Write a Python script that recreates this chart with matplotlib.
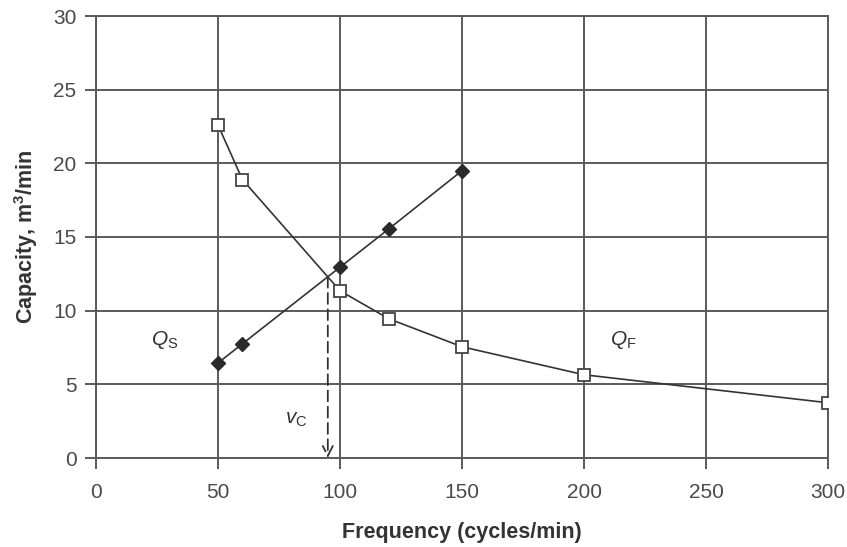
import matplotlib
matplotlib.use("Agg")
import matplotlib.pyplot as plt

plt.rcParams['font.family'] = ['Liberation Sans', 'DejaVu Sans']
plt.rcParams['mathtext.fontset'] = 'custom'
plt.rcParams['mathtext.rm'] = 'Liberation Sans'
plt.rcParams['mathtext.it'] = 'Liberation Sans:italic'
plt.rcParams['mathtext.bf'] = 'Liberation Sans:bold'

# Feed capacity Q_F (open squares) and screen capacity Q_S (filled diamonds)
freq_f = [50, 60, 100, 120, 150, 200, 300]
cap_f = [22.6, 18.9, 11.35, 9.45, 7.55, 5.65, 3.75]
freq_s = [50, 60, 100, 120, 150]
cap_s = [6.45, 7.75, 12.95, 15.55, 19.5]
# Critical frequency where the two curves cross
v_c = 95.0
q_c = 12.3

x_ticks = [0, 50, 100, 150, 200, 250, 300]
y_ticks = [0, 5, 10, 15, 20, 25, 30]

fig = plt.figure(figsize=(8.47, 5.47), dpi=100)
ax = fig.add_axes([96 / 847, 1 - 458 / 547, (828 - 96) / 847, (458 - 16) / 547])

grid_c = '#5a5a5a'
line_c = '#333333'
text_c = '#333333'

ax.set_xlim(0, 300)
ax.set_ylim(0, 30)
ax.set_xticks(x_ticks)
ax.set_yticks(y_ticks)
ax.grid(True, color=grid_c, linewidth=1.4)
ax.set_axisbelow(True)
for s in ax.spines.values():
    s.set_color(grid_c)
    s.set_linewidth(1.4)
ax.tick_params(axis='both', direction='out', length=8, width=1.4, color=grid_c,
               labelsize=15, labelcolor='#4a4a4a')
ax.tick_params(axis='x', pad=10)
ax.tick_params(axis='y', pad=6)

ax.plot(freq_s, cap_s, color=line_c, linewidth=1.2, marker='D', markersize=7,
        markerfacecolor='#2a2a2a', markeredgecolor='#2a2a2a', zorder=3)
ax.plot(freq_f, cap_f, color=line_c, linewidth=1.2, marker='s', markersize=9,
        markerfacecolor='white', markeredgecolor='#444444', markeredgewidth=1.3, zorder=4)

ax.annotate('', xy=(v_c, 0), xytext=(v_c, q_c),
            arrowprops=dict(arrowstyle='->', color=line_c, lw=1.3,
                            linestyle=(0, (6, 3)), mutation_scale=18, shrinkA=0, shrinkB=0))

ax.text(82, 2.6, r'$v_{\mathrm{C}}$', fontsize=15, color=text_c, ha='center', va='center')
ax.text(28, 8.0, r'$Q_{\mathrm{S}}$', fontsize=15, color=text_c, ha='center', va='center')
ax.text(216, 8.0, r'$Q_{\mathrm{F}}$', fontsize=15, color=text_c, ha='center', va='center')

ax.set_xlabel('Frequency (cycles/min)', fontsize=15.5, fontweight='bold', color=text_c)
ax.set_ylabel(r'Capacity, m$^\mathbf{3}$/min', fontsize=15.5, fontweight='bold', color=text_c)
ax.xaxis.set_label_coords(0.5, -0.145)
ax.yaxis.set_label_coords(-0.076, 0.5)

fig.savefig('out.png', dpi=100)
